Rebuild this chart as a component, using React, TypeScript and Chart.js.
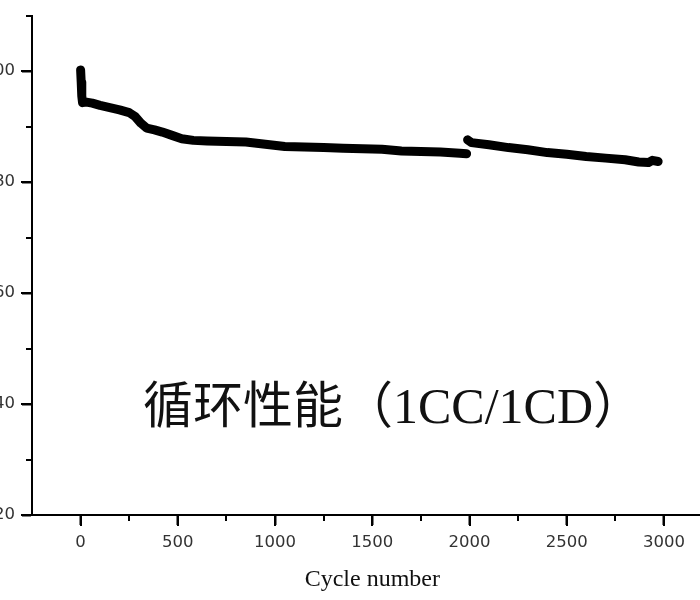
import React, { useEffect, useRef } from 'react';
import { Chart, registerables } from 'chart.js';

Chart.register(...registerables);

const xTicks = [0, 500, 1000, 1500, 2000, 2500, 3000];
const yTicks = [20, 40, 60, 80, 100];
const xMinorTicks = [250, 750, 1250, 1750, 2250, 2750, 3250];
const yMinorTicks = [30, 50, 70, 90, 110];

const cyclesA = [0, 3, 6, 10, 30, 60, 100, 150, 200, 250, 280, 310, 340, 380, 420, 470, 520, 580, 650, 750, 850, 950, 1050, 1150, 1250, 1350, 1450, 1550, 1650, 1750, 1850, 1950, 1985];
const retentionA = [100.2, 98, 95.5, 94.3, 94.4, 94.2, 93.8, 93.4, 93.0, 92.5, 91.8, 90.6, 89.7, 89.4, 89.0, 88.4, 87.8, 87.5, 87.4, 87.3, 87.2, 86.8, 86.4, 86.3, 86.2, 86.1, 86.0, 85.9, 85.6, 85.5, 85.4, 85.2, 85.1];

const cyclesB = [1990, 2010, 2100, 2200, 2300, 2400, 2500, 2600, 2700, 2800, 2870, 2920, 2940, 2970];
const retentionB = [87.6, 87.1, 86.7, 86.2, 85.8, 85.3, 85.0, 84.6, 84.3, 84.0, 83.6, 83.5, 83.9, 83.7];

const xAxisTitle = 'Cycle number';
const annotationText = '循环性能（1CC/1CD）';

const toPoints = (xs: number[], ys: number[]) => xs.map((x, i) => ({ x, y: ys[i] }));

export default function App() {
  const ref = useRef<HTMLCanvasElement | null>(null);

  useEffect(() => {
    if (!ref.current) return;
    const extras = {
      id: 'extras',
      afterDraw(chart: any) {
        const { ctx, scales } = chart;
        const x = scales.x;
        const y = scales.y;
        ctx.save();
        ctx.fillStyle = '#000';
        const vTick = (v: number, len: number) => {
          const px = Math.round(x.getPixelForValue(v));
          ctx.fillRect(px - 1, y.bottom, 2, len);
        };
        const hTick = (v: number, len: number) => {
          const py = Math.round(y.getPixelForValue(v));
          ctx.fillRect(x.left - len, py - 1, len, 2);
        };
        xTicks.forEach((v) => vTick(v, 11));
        xMinorTicks.forEach((v) => vTick(v, 6));
        yTicks.forEach((v) => hTick(v, 11));
        yMinorTicks.forEach((v) => hTick(v, 6));
        ctx.font = "50px 'Liberation Serif', 'Noto Sans CJK SC'";
        ctx.fillStyle = '#111';
        ctx.textAlign = 'left';
        ctx.textBaseline = 'middle';
        ctx.fillText(annotationText, x.left + 111, 410);
        ctx.restore();
      },
    };

    const gridOpts = {
      display: true,
      drawOnChartArea: false,
      drawTicks: true,
      tickLength: 10,
      tickColor: '#000',
      tickWidth: 2,
      color: '#000',
    };

    const chart = new Chart(ref.current, {
      type: 'scatter',
      data: {
        datasets: [
          {
            data: toPoints(cyclesA, retentionA),
            showLine: true,
            borderColor: '#000',
            backgroundColor: '#000',
            borderWidth: 9,
            borderCapStyle: 'round',
            borderJoinStyle: 'round',
            pointRadius: 0,
            tension: 0,
          },
          {
            data: toPoints(cyclesB, retentionB),
            showLine: true,
            borderColor: '#000',
            backgroundColor: '#000',
            borderWidth: 9,
            borderCapStyle: 'round',
            borderJoinStyle: 'round',
            pointRadius: 0,
            tension: 0,
          },
        ],
      },
      options: {
        responsive: false,
        animation: false,
        layout: { padding: { left: 0, right: 47.4, top: 15.5, bottom: 0 } },
        plugins: { legend: { display: false }, tooltip: { enabled: false } },
        scales: {
          x: {
            type: 'linear',
            min: -250,
            max: 3250,
            afterBuildTicks: (s: any) => {
              s.ticks = xTicks.map((v) => ({ value: v }));
            },
            afterFit: (s: any) => {
              s.height = 85;
              s.paddingLeft = 0;
              s.paddingRight = 0;
            },
            grid: gridOpts,
            border: { display: true, color: '#000', width: 2 },
            ticks: {
              color: '#333',
              font: { family: 'DejaVu Sans', size: 16.5 },
              padding: 8,
              maxRotation: 0,
              callback: (v: any) => String(v),
            },
            title: {
              display: true,
              text: xAxisTitle,
              color: '#111',
              font: { family: "'Liberation Serif'", size: 24 },
              padding: { top: 0, bottom: 6 },
            },
          },
          y: {
            type: 'linear',
            min: 20,
            max: 110,
            afterBuildTicks: (s: any) => {
              s.ticks = yTicks.map((v) => ({ value: v }));
            },
            afterFit: (s: any) => {
              s.width = 72;
              s.paddingTop = 0;
              s.paddingBottom = 0;
            },
            grid: gridOpts,
            border: { display: true, color: '#000', width: 2 },
            ticks: {
              color: '#333',
              font: { family: 'DejaVu Sans', size: 16.5 },
              padding: 7,
              callback: (v: any) => String(v),
            },
          },
        },
      },
      plugins: [extras],
    } as any);

    return () => chart.destroy();
  }, []);

  return (
    <div
      style={{
        position: 'fixed',
        left: 0,
        top: 0,
        width: 700,
        height: 600,
        overflow: 'hidden',
        background: '#fff',
      }}
    >
      <canvas
        ref={ref}
        width={800}
        height={600}
        style={{ position: 'absolute', left: -40, top: 0, width: 800, height: 600 }}
      />
    </div>
  );
}
